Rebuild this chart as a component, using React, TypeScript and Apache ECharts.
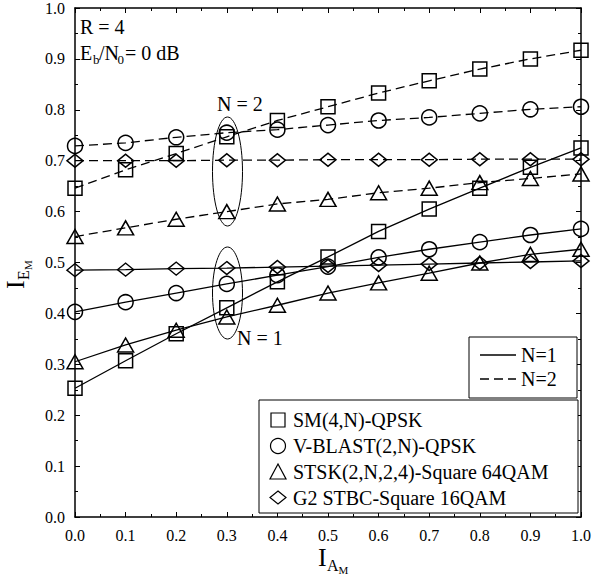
import React, { useEffect, useRef } from "react";
import * as echarts from "echarts";

const xVals = [0, 0.1, 0.2, 0.3, 0.4, 0.5, 0.6, 0.7, 0.8, 0.9, 1.0];
const smN1 = [0.253, 0.307, 0.360, 0.411, 0.462, 0.511, 0.561, 0.605, 0.646, 0.687, 0.725];
const vbN1 = [0.403, 0.422, 0.440, 0.458, 0.475, 0.492, 0.510, 0.526, 0.540, 0.554, 0.566];
const stskN1 = [0.305, 0.338, 0.367, 0.393, 0.416, 0.440, 0.460, 0.479, 0.499, 0.516, 0.526];
const g2N1 = [0.485, 0.486, 0.488, 0.489, 0.491, 0.493, 0.495, 0.497, 0.499, 0.501, 0.503];
const smN2 = [0.646, 0.682, 0.714, 0.747, 0.779, 0.806, 0.833, 0.857, 0.880, 0.900, 0.917];
const vbN2 = [0.729, 0.735, 0.746, 0.755, 0.761, 0.770, 0.779, 0.785, 0.793, 0.801, 0.806];
const stskN2 = [0.551, 0.568, 0.585, 0.600, 0.615, 0.624, 0.637, 0.646, 0.657, 0.665, 0.674];
const g2N2 = [0.700, 0.700, 0.700, 0.701, 0.701, 0.702, 0.702, 0.702, 0.703, 0.703, 0.703];

const schemeNames = ["SM(4,N)-QPSK", "V-BLAST(2,N)-QPSK", "STSK(2,N,2,4)-Square 64QAM", "G2 STBC-Square 16QAM"];
const lineNames = ["N=1", "N=2"];
const tickLabels = ["0.0", "0.1", "0.2", "0.3", "0.4", "0.5", "0.6", "0.7", "0.8", "0.9", "1.0"];

const FONT = "Liberation Serif";

export default function App() {
  const ref = useRef<HTMLDivElement>(null);
  useEffect(() => {
    document.body.style.margin = "0";
    const chart = echarts.init(ref.current!, null, { renderer: "svg" });
    const sym: any[] = [
      { symbol: "rect", size: 14 },
      { symbol: "circle", size: 15 },
      { symbol: "triangle", size: [16, 14] },
      { symbol: "diamond", size: [16, 13] },
    ];
    const mk = (name: string, data: number[], i: number, dashed: boolean) => ({
      type: "line",
      name,
      data: data.map((v, k) => [xVals[k], v]),
      symbol: sym[i].symbol,
      symbolSize: sym[i].size,
      showAllSymbol: true,
      lineStyle: { color: "#000", width: 1.3, type: dashed ? [9, 5] : "solid" },
      itemStyle: { color: "rgba(255,255,255,0)", borderColor: "#000", borderWidth: 1.5 },
      emphasis: { disabled: true },
      z: 3,
    });
    const series = [
      mk("sm1", smN1, 0, false),
      mk("vb1", vbN1, 1, false),
      mk("stsk1", stskN1, 2, false),
      mk("g21", g2N1, 3, false),
      mk("sm2", smN2, 0, true),
      mk("vb2", vbN2, 1, true),
      mk("stsk2", stskN2, 2, true),
      mk("g22", g2N2, 3, true),
    ];
    const axisCommon = {
      type: "value",
      min: 0,
      max: 1,
      interval: 0.1,
      axisLine: { show: true, onZero: false, lineStyle: { color: "#000", width: 1.5 } },
      axisTick: { show: true, inside: true, length: 5, lineStyle: { color: "#000", width: 1 } },
      minorTick: { show: true, splitNumber: 2, length: 3, lineStyle: { color: "#000", width: 1 } },
      splitLine: { show: false },
    };
    const lab = {
      show: true,
      fontFamily: FONT,
      fontSize: 16,
      color: "#000",
      formatter: (v: number) => tickLabels[Math.round(v * 10)],
    };
    const txt = (x: number, y: number, text: string, size: number, extra: any = {}) => ({
      type: "text",
      x,
      y,
      style: { text, fontFamily: FONT, fontSize: size, fill: "#000", textVerticalAlign: "middle", textAlign: "left", ...extra },
      z: 10,
    });
    const graphic: any[] = [
      txt(80, 27, "R = 4", 20),
      txt(80, 53, "E", 20),
      txt(93, 59, "b", 13),
      txt(99, 53, "/N", 20),
      txt(117.5, 59, "0", 13),
      txt(125, 53, "= 0 dB", 20),
      { type: "ellipse", shape: { cx: 227.5, cy: 171.5, rx: 15, ry: 54.5 }, style: { fill: "none", stroke: "#000", lineWidth: 1 }, z: 5 },
      { type: "ellipse", shape: { cx: 227.5, cy: 293, rx: 15, ry: 46 }, style: { fill: "none", stroke: "#000", lineWidth: 1 }, z: 5 },
      txt(217, 104, "N = 2", 20),
      txt(237, 338, "N = 1", 20),
      // x axis title
      txt(318, 557, "I", 26),
      txt(327, 565, "A", 16),
      txt(338.5, 570, "M", 11),
      // y axis title
      {
        type: "group",
        x: 15,
        y: 289,
        rotation: Math.PI / 2,
        children: [
          txt(0, 0, "I", 26),
          txt(9, 8, "E", 16),
          txt(19, 13, "M", 11),
        ],
      },
      // line-style legend
      { type: "rect", shape: { x: 469, y: 337, width: 108, height: 61 }, style: { fill: "#fff", stroke: "#000", lineWidth: 1 }, z: 8 },
      { type: "line", shape: { x1: 480, y1: 355, x2: 516, y2: 355 }, style: { stroke: "#000", lineWidth: 1.3 }, z: 9 },
      { type: "line", shape: { x1: 480, y1: 379, x2: 516, y2: 379 }, style: { stroke: "#000", lineWidth: 1.3, lineDash: [9, 5] }, z: 9 },
      txt(521, 355, lineNames[0], 20),
      txt(521, 379, lineNames[1], 20),
      // marker legend
      { type: "rect", shape: { x: 259, y: 400, width: 319, height: 113 }, style: { fill: "#fff", stroke: "#000", lineWidth: 1 }, z: 8 },
      { type: "rect", shape: { x: 271, y: 413, width: 14, height: 14 }, style: { fill: "none", stroke: "#000", lineWidth: 1.2 }, z: 9 },
      { type: "circle", shape: { cx: 278, cy: 446, r: 7.5 }, style: { fill: "none", stroke: "#000", lineWidth: 1.2 }, z: 9 },
      { type: "polygon", shape: { points: [[278, 464], [270, 479], [286, 479]] }, style: { fill: "none", stroke: "#000", lineWidth: 1.2 }, z: 9 },
      { type: "polygon", shape: { points: [[278, 491], [286, 497.5], [278, 504], [270, 497.5]] }, style: { fill: "none", stroke: "#000", lineWidth: 1.2 }, z: 9 },
      txt(293, 420, schemeNames[0], 20),
      txt(293, 446, schemeNames[1], 20),
      txt(293, 472, schemeNames[2], 20),
      txt(293, 498, schemeNames[3], 20),
    ];
    chart.setOption({
      animation: false,
      backgroundColor: "#fff",
      grid: { left: 75, right: 11, top: 8, bottom: 63, containLabel: false },
      xAxis: [
        { ...axisCommon, position: "bottom", axisLabel: { ...lab, margin: 10 } },
        { ...axisCommon, position: "top", axisLabel: { show: false } },
      ],
      yAxis: [
        { ...axisCommon, position: "left", axisLabel: { ...lab, margin: 10 } },
        { ...axisCommon, position: "right", axisLabel: { show: false } },
      ],
      series,
      graphic,
    });
    return () => chart.dispose();
  }, []);
  return <div ref={ref} style={{ width: 594, height: 580 }} />;
}
